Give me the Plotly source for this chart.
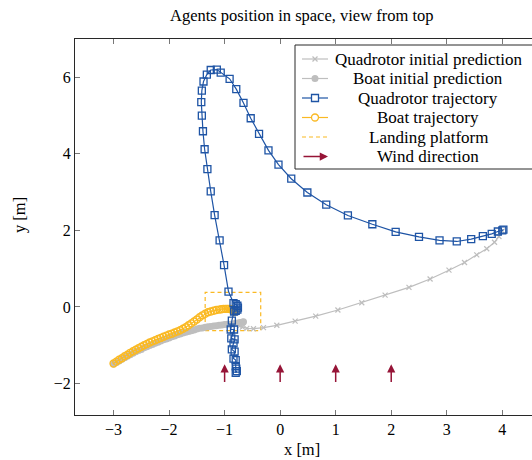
import plotly.graph_objects as go

# ---------------- data ----------------
# Quadrotor initial prediction (gray crosses)
quad_pred_x = [4.00, 3.94, 3.86, 3.72, 3.54, 3.32, 3.04, 2.70, 2.32, 1.89, 1.47, 1.04,
               0.64, 0.27, -0.06, -0.30, -0.48, -0.60, -0.68, -0.73]
quad_pred_y = [1.98, 1.84, 1.69, 1.52, 1.36, 1.16, 0.96, 0.73, 0.51, 0.31, 0.11, -0.08,
               -0.24, -0.37, -0.48, -0.54, -0.57, -0.56, -0.53, -0.50]

# Boat initial prediction (gray filled circles)
boat_pred_x = [-3.00, -2.95, -2.90, -2.85, -2.80, -2.75, -2.70, -2.65, -2.60, -2.55, -2.50,
               -2.45, -2.40, -2.35, -2.30, -2.25, -2.20, -2.15, -2.10, -2.05, -2.00, -1.95,
               -1.90, -1.85, -1.80, -1.75, -1.70, -1.65, -1.60, -1.55, -1.50, -1.45, -1.40,
               -1.35, -1.30, -1.25, -1.20, -1.15, -1.10, -1.05, -1.00, -0.95, -0.90, -0.85,
               -0.80, -0.76, -0.72, -0.69, -0.67, -0.66]
boat_pred_y = [-1.49, -1.45, -1.41, -1.37, -1.33, -1.29, -1.25, -1.21, -1.17, -1.14, -1.11,
               -1.07, -1.04, -1.01, -0.98, -0.95, -0.92, -0.89, -0.86, -0.84, -0.81, -0.78,
               -0.76, -0.73, -0.71, -0.68, -0.66, -0.64, -0.62, -0.60, -0.58, -0.56, -0.55,
               -0.53, -0.52, -0.51, -0.50, -0.49, -0.48, -0.47, -0.46, -0.45, -0.45, -0.44,
               -0.43, -0.42, -0.41, -0.40, -0.40, -0.39]

# Quadrotor trajectory (blue squares)
quad_traj_x = [4.02, 4.00, 3.92, 3.81, 3.65, 3.44, 3.18, 2.87, 2.50, 2.08, 1.66, 1.22,
               0.83, 0.49, 0.20, -0.03, -0.21, -0.38, -0.53, -0.66, -0.79, -0.91, -1.07,
               -1.14, -1.25, -1.32, -1.38, -1.41, -1.42, -1.41, -1.39, -1.36, -1.31, -1.25,
               -1.18, -1.09, -1.01, -0.93, -0.84, -0.80, -0.77, -0.76, -0.77, -0.80, -0.83,
               -0.87, -0.89, -0.83, -0.88, -0.82, -0.84, -0.87, -0.82, -0.84, -0.80, -0.80,
               -0.79, -0.80, -0.78]
quad_traj_y = [2.02, 2.00, 1.97, 1.91, 1.85, 1.77, 1.71, 1.74, 1.83, 1.96, 2.16, 2.39,
               2.67, 2.99, 3.35, 3.72, 4.09, 4.52, 4.93, 5.33, 5.69, 5.96, 6.12,
               6.20, 6.19, 6.07, 5.89, 5.65, 5.35, 5.00, 4.59, 4.12, 3.60, 3.02,
               2.40, 1.74, 1.09, 0.40, 0.10, 0.07, 0.03, -0.02, -0.07, -0.10, -0.12,
               -0.36, -0.59, -0.59, -0.82, -0.85, -0.95, -1.11, -1.17, -1.35, -1.39, -1.55,
               -1.61, -1.72, -1.68]

# Boat trajectory (orange open circles)
boat_traj_x = [-3.00, -2.95, -2.90, -2.85, -2.80, -2.75, -2.70, -2.65, -2.60, -2.55, -2.50,
               -2.45, -2.40, -2.35, -2.30, -2.25, -2.20, -2.15, -2.10, -2.05, -2.00, -1.95,
               -1.90, -1.85, -1.80, -1.75, -1.70, -1.65, -1.60, -1.55, -1.50, -1.45, -1.40,
               -1.35, -1.30, -1.25, -1.20, -1.15, -1.10, -1.06, -1.02, -0.98, -0.95, -0.92,
               -0.89, -0.87, -0.85, -0.83, -0.82, -0.82]
boat_traj_y = [-1.48, -1.43, -1.38, -1.34, -1.29, -1.25, -1.20, -1.16, -1.12, -1.08, -1.04,
               -1.00, -0.97, -0.93, -0.90, -0.87, -0.84, -0.81, -0.78, -0.75, -0.72, -0.70,
               -0.67, -0.64, -0.61, -0.57, -0.53, -0.48, -0.43, -0.38, -0.33, -0.27, -0.22,
               -0.18, -0.14, -0.12, -0.10, -0.08, -0.07, -0.06, -0.05, -0.05, -0.05, -0.05,
               -0.06, -0.07, -0.08, -0.09, -0.11, -0.13]

# Landing platform corners
platform_x = [-1.35, -0.35]
platform_y = [-0.62, 0.38]

# Wind arrows
wind_x = [-1, 0, 1, 2]
wind_y_start = -2.0
wind_y_end = -1.5

x_ticks = [-3, -2, -1, 0, 1, 2, 3, 4]
y_ticks = [-2, 0, 2, 4, 6]

legend_labels = ["Quadrotor initial prediction", "Boat initial prediction",
                 "Quadrotor trajectory", "Boat trajectory", "Landing platform",
                 "Wind direction"]

# ---------------- styles ----------------
GRAY = "rgb(190,190,190)"
BLUE = "rgb(30,84,165)"
ORANGE = "rgb(250,185,35)"
WINE = "rgb(150,20,55)"
AXIS = "rgb(40,40,40)"
FONT = "Liberation Serif"

W, H = 532, 460
L, R, T, B = 75, 532, 39, 415


def px(xp):
    return (xp - L) / (R - L)


def py(yp):
    return (B - yp) / (B - T)


fig = go.Figure()

fig.add_trace(go.Scatter(
    x=quad_pred_x, y=quad_pred_y, mode="lines+markers",
    line=dict(color=GRAY, width=1.2),
    marker=dict(symbol="x-thin-open", size=5, color=GRAY, line=dict(color=GRAY, width=1.2)),
    name=legend_labels[0], showlegend=False))

fig.add_trace(go.Scatter(
    x=boat_pred_x, y=boat_pred_y, mode="lines+markers",
    line=dict(color=GRAY, width=1.2),
    marker=dict(symbol="circle", size=7, color=GRAY),
    name=legend_labels[1], showlegend=False))

fig.add_trace(go.Scatter(
    x=boat_traj_x, y=boat_traj_y, mode="lines+markers",
    line=dict(color=ORANGE, width=1.2),
    marker=dict(symbol="circle-open", size=7, color=ORANGE, line=dict(color=ORANGE, width=1.4)),
    name=legend_labels[3], showlegend=False))

fig.add_trace(go.Scatter(
    x=quad_traj_x, y=quad_traj_y, mode="lines+markers",
    line=dict(color=BLUE, width=1.2),
    marker=dict(symbol="square-open", size=7, color=BLUE, line=dict(color=BLUE, width=1.3)),
    name=legend_labels[2], showlegend=False))

shapes = []
annotations = []

# landing platform
shapes.append(dict(type="rect", xref="x", yref="y",
                   x0=platform_x[0], x1=platform_x[1], y0=platform_y[0], y1=platform_y[1],
                   line=dict(color=ORANGE, width=1.2, dash="4px,3px"), layer="below"))

# wind arrows
for wx in wind_x:
    annotations.append(dict(x=wx, y=wind_y_end, ax=wx, ay=wind_y_start,
                            xref="x", yref="y", axref="x", ayref="y",
                            showarrow=True, arrowhead=2, arrowsize=1.1, arrowwidth=1.5,
                            arrowcolor=WINE, text=""))

# legend box
shapes.append(dict(type="rect", xref="paper", yref="paper",
                   x0=px(295), x1=px(560), y0=py(169), y1=py(45),
                   line=dict(color=AXIS, width=1), fillcolor="white", layer="above"))

rows = [59, 78.5, 98, 117.5, 137, 156.5]
sx0, sx1, sxm = 302, 328, 315
text_cx = 428

# sample lines
sample_styles = [(GRAY, "solid"), (GRAY, "solid"), (BLUE, "solid"), (ORANGE, "solid"),
                 (ORANGE, "4px,3px")]
for (col, dash), ry in zip(sample_styles, rows):
    shapes.append(dict(type="line", xref="paper", yref="paper",
                       x0=px(sx0), x1=px(sx1), y0=py(ry), y1=py(ry),
                       line=dict(color=col, width=1.2, dash=dash), layer="above"))
# sample markers
r0 = rows[0]
shapes.append(dict(type="line", xref="paper", yref="paper", x0=px(sxm - 2.5), x1=px(sxm + 2.5),
                   y0=py(r0 - 2.5), y1=py(r0 + 2.5), line=dict(color=GRAY, width=1.2), layer="above"))
shapes.append(dict(type="line", xref="paper", yref="paper", x0=px(sxm - 2.5), x1=px(sxm + 2.5),
                   y0=py(r0 + 2.5), y1=py(r0 - 2.5), line=dict(color=GRAY, width=1.2), layer="above"))
r1 = rows[1]
shapes.append(dict(type="circle", xref="paper", yref="paper", x0=px(sxm - 3.5), x1=px(sxm + 3.5),
                   y0=py(r1 + 3.5), y1=py(r1 - 3.5), fillcolor=GRAY, line=dict(color=GRAY, width=0),
                   layer="above"))
r2 = rows[2]
shapes.append(dict(type="rect", xref="paper", yref="paper", x0=px(sxm - 3.5), x1=px(sxm + 3.5),
                   y0=py(r2 + 3.5), y1=py(r2 - 3.5), fillcolor="white", line=dict(color=BLUE, width=1.3),
                   layer="above"))
r3 = rows[3]
shapes.append(dict(type="circle", xref="paper", yref="paper", x0=px(sxm - 3.5), x1=px(sxm + 3.5),
                   y0=py(r3 + 3.5), y1=py(r3 - 3.5), fillcolor="white", line=dict(color=ORANGE, width=1.3),
                   layer="above"))
# arrow sample
annotations.append(dict(x=px(sx1), y=py(rows[5]), xref="paper", yref="paper",
                        ax=-(sx1 - sx0), ay=0, showarrow=True, arrowhead=2, arrowsize=1.1,
                        arrowwidth=1.5, arrowcolor=WINE, text=""))

for lab, ry in zip(legend_labels, rows):
    annotations.append(dict(x=px(text_cx), y=py(ry), xref="paper", yref="paper",
                            text=lab, showarrow=False, xanchor="center", yanchor="middle",
                            font=dict(family=FONT, size=17, color="black")))

# title and axis labels
annotations.append(dict(x=px(302), y=py(15), xref="paper", yref="paper",
                        text="Agents position in space, view from top", showarrow=False,
                        xanchor="center", yanchor="middle",
                        font=dict(family=FONT, size=16.5, color="black")))
annotations.append(dict(x=px(302), y=py(449), xref="paper", yref="paper",
                        text="x [m]", showarrow=False, xanchor="center", yanchor="middle",
                        font=dict(family=FONT, size=16.5, color="black")))
annotations.append(dict(x=px(19), y=py(215), xref="paper", yref="paper",
                        text="y [m]", showarrow=False, xanchor="center", yanchor="middle",
                        textangle=-90, font=dict(family=FONT, size=16.5, color="black")))

fig.update_layout(
    width=W, height=H,
    margin=dict(l=L, r=W - R, t=T, b=H - B),
    plot_bgcolor="white", paper_bgcolor="white",
    showlegend=False,
    shapes=shapes, annotations=annotations,
    font=dict(family=FONT, size=16, color="black"),
)
fig.update_xaxes(range=[-3.694, 4.535], tickvals=x_ticks, showgrid=False, zeroline=False,
                 showline=True, linecolor=AXIS, linewidth=1, mirror="ticks",
                 ticks="inside", ticklen=5, tickcolor="rgb(120,120,120)", tickwidth=1)
fig.update_yaxes(range=[-2.824, 7.0], tickvals=y_ticks, showgrid=False, zeroline=False,
                 showline=True, linecolor=AXIS, linewidth=1, mirror=False,
                 ticks="inside", ticklen=5, tickcolor="rgb(120,120,120)", tickwidth=1)

fig.write_html("out.html")
